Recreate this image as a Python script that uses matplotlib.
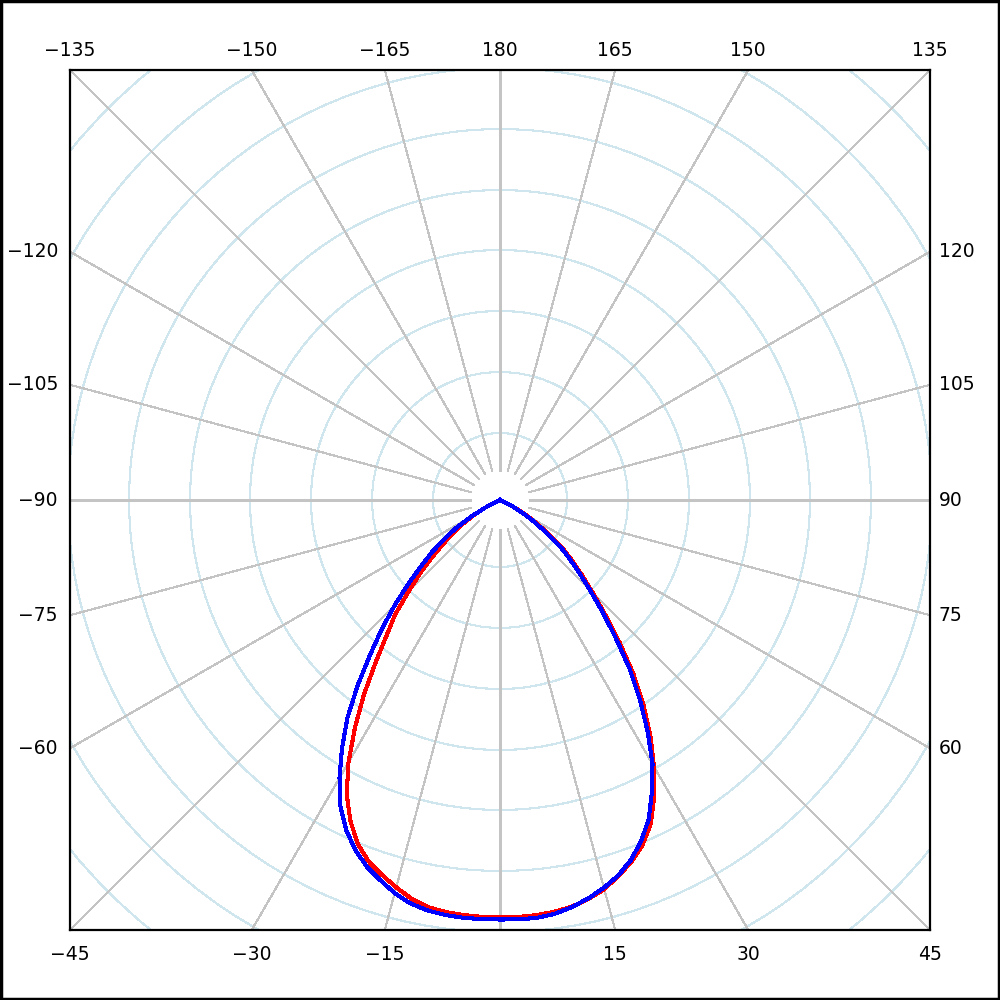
import numpy as np
import matplotlib.pyplot as plt
from matplotlib.patches import Circle, Rectangle

# Angles (deg from nadir) and intensities, one list per half
ang = [0, 2.5, 5, 7.5, 10, 12.5, 15, 17.5, 20, 22.5, 25, 27.5, 30, 32.5, 35,
       37.5, 40, 42.5, 45, 47.5, 50, 52.5, 55, 57.5, 60, 62.5, 65, 67.5, 90]
blue_left = [419.5, 419.5, 419.4, 418.6, 416.8, 413.3, 407, 398.5, 390, 378.5,
             364, 345.5, 321, 294, 266, 234, 202, 175, 149, 125, 103, 86, 68,
             52, 34, 18, 5, 0, 0]
blue_right = [419.5, 419.8, 419.5, 417.5, 413.5, 408, 401.5, 393.5, 383, 369,
              352, 329, 305, 275, 244, 213, 180, 152, 127, 107, 90, 75, 55, 40,
              28, 16, 6, 0, 0]
red_left = [417.5, 417.3, 416.6, 415.6, 413.5, 408.5, 401, 393, 384.5, 372,
            354, 332, 303, 270, 237, 204, 176, 155, 129, 108, 88, 71, 55, 43,
            30, 17, 5, 0, 0]
red_right = [417.5, 417.3, 416.8, 415.3, 413, 408.5, 403, 394, 385, 373, 357,
             334, 308, 280, 250, 219, 186, 156, 131, 111, 94, 78, 59, 44, 30,
             17, 6, 0, 0]

# Grid
ring_radii = [67, 128, 189, 250, 310, 371, 432, 493, 554]
spoke_angles = list(range(-180, 180, 15))
ray_start = 30
half = 430

# Edge labels
bottom_labels = [-45, -30, -15, 15, 30, 45]
top_labels = [-135, -150, -165, 180, 165, 150, 135]
left_labels = [-120, -105, -90, -75, -60]
right_labels = [120, 105, 90, 75, 60]

plt.rcParams['font.family'] = 'DejaVu Sans'

fig = plt.figure(figsize=(10, 10), dpi=100)
ax = fig.add_axes([0.07, 0.07, 0.86, 0.86])
ax.set_xlim(-half, half)
ax.set_ylim(-half, half)
ax.set_aspect('equal')
ax.set_xticks([])
ax.set_yticks([])
for s in ax.spines.values():
    s.set_linewidth(1.6)
    s.set_color('black')


def polar_xy(theta_deg, r):
    t = np.radians(np.asarray(theta_deg, dtype=float))
    r = np.asarray(r, dtype=float)
    return r * np.sin(t), -r * np.cos(t)


# circles
for rr in ring_radii:
    ax.add_patch(Circle((0, 0), rr, fill=False, ec='#cfe6ee', lw=0.8,
                        antialiased=False, zorder=1))

# spokes
for a in spoke_angles:
    x0, y0 = polar_xy(a, ray_start)
    x1, y1 = polar_xy(a, 700)
    ax.plot([x0, x1], [y0, y1], color='#c4c4c4', lw=0.8, antialiased=False,
            zorder=2)


# curves
def full_curve(left, right):
    th = [-a for a in ang[::-1]] + ang[1:]
    rr = left[::-1] + right[1:]
    return polar_xy(th, rr)


xr, yr = full_curve(red_left, red_right)
xb, yb = full_curve(blue_left, blue_right)
ax.plot(xr, yr, color='#ff0000', lw=2.2, antialiased=False, zorder=3)
ax.plot(xb, yb, color='#0000ff', lw=2.2, antialiased=False, zorder=4)


def lab(v):
    return str(v).replace('-', '\u2212')


fs = 13.5
for a in bottom_labels:
    ax.text(half * np.tan(np.radians(a)), -half - 25, lab(a), ha='center',
            va='center', fontsize=fs, clip_on=False)
for a in top_labels:
    x = -half * np.tan(np.radians(a))
    ax.text(x, half + 20, lab(a), ha='center', va='center', fontsize=fs,
            clip_on=False)
for a in left_labels:
    y = half / np.tan(np.radians(a))
    ax.text(-half - 12, y, lab(a), ha='right', va='center', fontsize=fs,
            clip_on=False)
for a in right_labels:
    y = -half / np.tan(np.radians(a))
    ax.text(half + 9, y, lab(a), ha='left', va='center', fontsize=fs,
            clip_on=False)

# outer border of the image
fig.patches.append(Rectangle((0.001, 0.001), 0.998, 0.998,
                             transform=fig.transFigure,
                             fill=False, ec='black', lw=2.5))

fig.savefig('out.png', dpi=100)
